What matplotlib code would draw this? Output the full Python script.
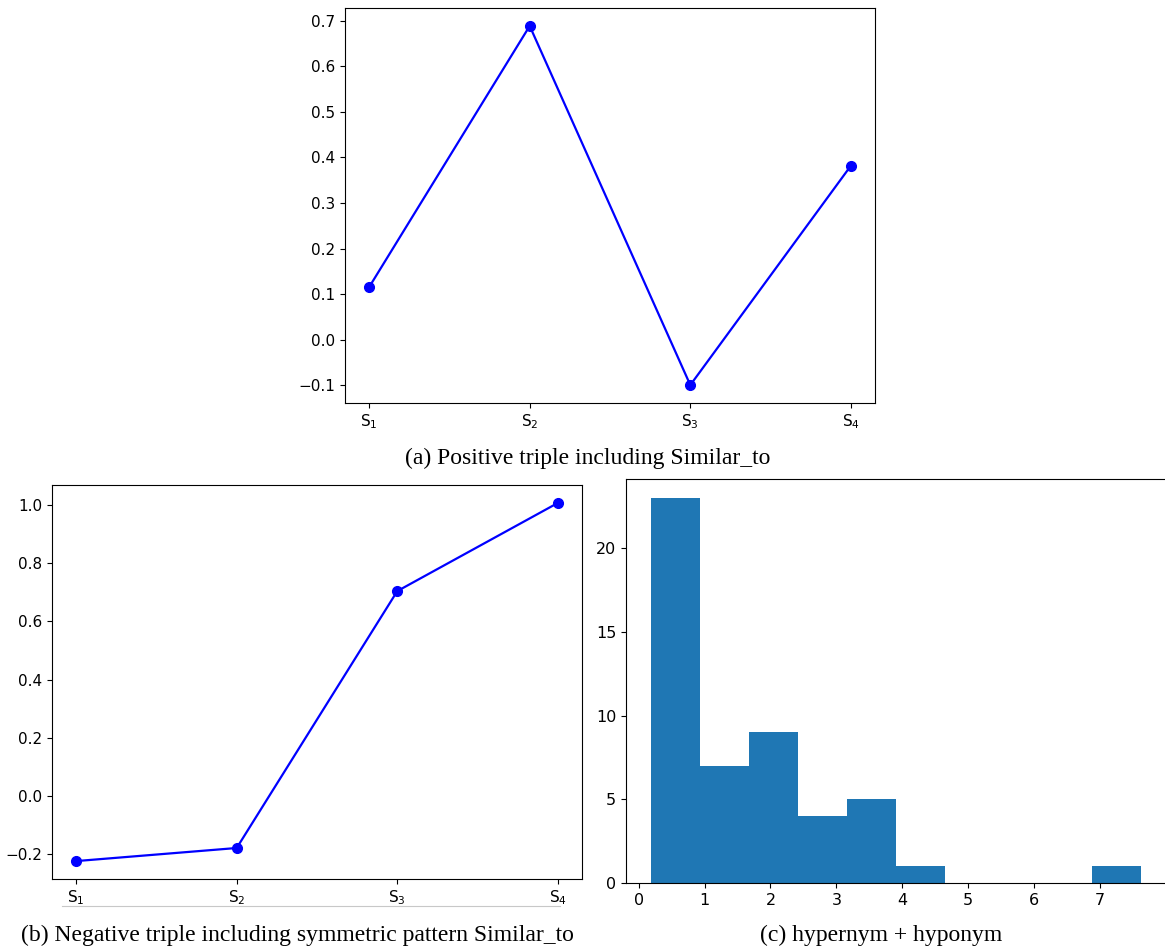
import matplotlib
matplotlib.use("Agg")
import matplotlib.pyplot as plt
from matplotlib.lines import Line2D
import numpy as np

# values
steps = [r'$\mathrm{S}_1$', r'$\mathrm{S}_2$', r'$\mathrm{S}_3$', r'$\mathrm{S}_4$']
positive_scores = [0.115, 0.689, -0.100, 0.382]
negative_scores = [-0.224, -0.179, 0.704, 1.007]

hist_edges = [0.18, 0.925, 1.67, 2.415, 3.16, 3.905, 4.65, 5.395, 6.14, 6.885, 7.63]
hist_counts = [23, 7, 9, 4, 5, 1, 0, 0, 0, 1]
hist_ticks = [0, 1, 2, 3, 4, 5, 6, 7]

caption_a = "(a) Positive triple including Similar_to"
caption_b = "(b) Negative triple including symmetric pattern Similar_to"
caption_c = "(c) hypernym + hyponym"

W, H = 1165, 951
fig = plt.figure(figsize=(W / 100, H / 100), dpi=100)


def box(left, top, right, bottom):
    return [left / W, 1 - bottom / H, (right - left) / W, (bottom - top) / H]


ax_a = fig.add_axes(box(345, 8, 875, 403))
ax_b = fig.add_axes(box(52, 485, 582, 879))
ax_c = fig.add_axes(box(626, 479, 1166, 883))

x = np.arange(len(steps))
for ax, scores in [(ax_a, positive_scores), (ax_b, negative_scores)]:
    ax.plot(x, scores, color="blue", marker="o", markersize=7, linewidth=1.6)
    ax.set_xticks(x)
    ax.set_xticklabels(steps)
    ax.tick_params(labelsize=11)

ax_c.hist(hist_edges[:-1], bins=hist_edges, weights=hist_counts)
ax_c.set_xticks(hist_ticks)
ax_c.tick_params(labelsize=11.5)

cap_font = dict(family="Liberation Serif", fontsize=17, ha="center", va="center")
fig.text(588 / W, 1 - 458 / H, caption_a, **cap_font)
fig.text(297 / W, 1 - 935 / H, caption_b, **cap_font)
fig.text(881 / W, 1 - 935 / H, caption_c, **cap_font)

# faint rule under panel (b) tick labels
fig.add_artist(Line2D([62 / W, 560 / W], [1 - 906 / H, 1 - 906 / H],
                      color="#c8c8c8", linewidth=0.8))

fig.savefig("out.png", dpi=100)
